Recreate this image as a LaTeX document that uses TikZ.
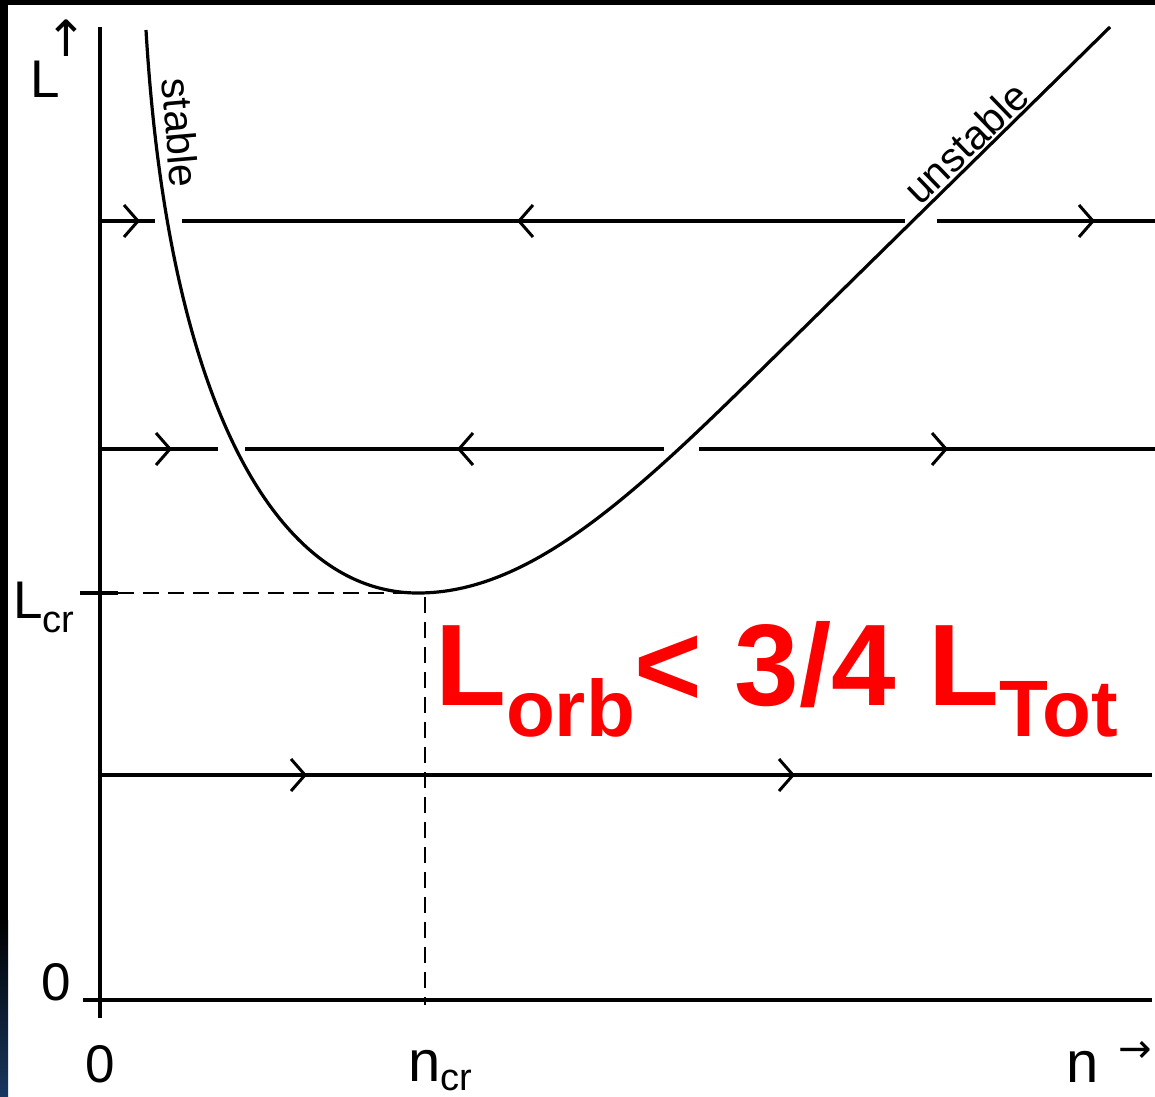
\documentclass[tikz,border=0pt]{standalone}
\usepackage{fontspec}
\setmainfont{Liberation Sans}
\newfontfamily\symf{DejaVu Sans}
\usetikzlibrary{arrows.meta}
\definecolor{redtxt}{RGB}{255,0,0}
\definecolor{edgeblue}{RGB}{25,55,95}
\begin{document}
\begin{tikzpicture}[x=1pt,y=-1pt,
  ln/.style={line width=3.2pt},
  axisln/.style={line width=3.4pt},
  dashln/.style={line width=2.6pt, dash pattern=on 16pt off 9pt},
  chev/.style={line width=3.2pt, -{Straight Barb[length=14pt,width=32pt,line width=3pt]}},
  lbl/.style={inner sep=0pt, font=\fontsize{53}{53}\selectfont},
  curvelbl/.style={inner sep=0pt, font=\fontsize{41}{41}\selectfont},
  symlbl/.style={inner sep=0pt, font=\symf\fontsize{50}{50}\selectfont}]
\useasboundingbox (0,0) rectangle (1155,1096);
\fill[white] (0,0) rectangle (1155,1096);
% dark frame edges
\fill[black] (0,0) rectangle (1155,5);
\fill[black] (0,0) rectangle (8,920);
\shade[top color=black, bottom color=edgeblue] (0,920) rectangle (8,1096);

% axes
\coordinate (ytop) at (100,27);
\coordinate (ybot) at (100,1018);
\coordinate (xl) at (83,1000);
\coordinate (xr) at (1152,1000);
\draw[axisln] (ytop) -- (ybot);
\draw[axisln] (xl) -- (xr);

% critical point and dashed guides
\coordinate (crit) at (418,593);
\coordinate (ltick) at (80,593);
\coordinate (lstart) at (118,593);
\coordinate (nbot) at (425,1005);
\coordinate (ntop) at (425,597);
\draw[ln] (ltick) -- (lstart);
\draw[dashln] (lstart) -- (crit);
\draw[dashln] (ntop) -- (nbot);

% stability curve
\coordinate (ctop) at (146,30);
\coordinate (cjoin) at (760,371);
\coordinate (cend) at (1110,27);
\draw[ln] (ctop) .. controls (168,400) and (275,593) .. (crit)
  .. controls (528,593) and (630,499) .. (cjoin) -- (cend);

% horizontal flow lines
\draw[ln] (100,221) -- (155,221);
\draw[ln] (182,221) -- (905,221);
\draw[ln] (937,221) -- (1155,221);
\draw[ln] (100,449) -- (218,449);
\draw[ln] (245,449) -- (664,449);
\draw[ln] (699,449) -- (1155,449);
\draw[ln] (100,775) -- (1152,775);

% arrowheads
\draw[chev] (125,221) -- (140,221);
\draw[chev] (532,221) -- (517,221);
\draw[chev] (1080,221) -- (1095,221);
\draw[chev] (157,449) -- (172,449);
\draw[chev] (472,449) -- (457,449);
\draw[chev] (933,449) -- (948,449);
\draw[chev] (292,775) -- (307,775);
\draw[chev] (780,775) -- (795,775);

% curve labels
\node[curvelbl, anchor=base, rotate=-85] (stab) at (166,134) {stable};
\node[curvelbl, anchor=base, rotate=44] (unstab) at (976,153) {unstable};

% axis labels
\node[lbl, anchor=base west] (Llab) at (30,97) {L};
\node[symlbl, anchor=center] (Larr) at (66,38) {↑};
\node[lbl, anchor=base west] (Lcr) at (13,618) {L\raisebox{-14pt}{\fontsize{38}{38}\selectfont cr}};
\node[lbl, anchor=base] (zeroL) at (56,1000) {0};
\node[lbl, anchor=base] (zeroB) at (100,1082) {0};
\node[lbl, anchor=base west, font=\fontsize{58}{58}\selectfont] (ncr) at (408,1081) {n\raisebox{-9pt}{\fontsize{38}{38}\selectfont cr}};
\node[lbl, anchor=base west, font=\fontsize{58}{58}\selectfont] (nlab) at (1066,1082) {n};
\node[symlbl, anchor=center, font=\symf\fontsize{40}{40}\selectfont] (narr) at (1135,1052) {→};

% red condition
\node[inner sep=0pt, anchor=base west, text=redtxt, font=\bfseries\fontsize{116}{116}\selectfont] (cond) at (435,705) {L\raisebox{-31pt}{\fontsize{80}{80}\selectfont orb}< 3/4 L\raisebox{-31pt}{\fontsize{80}{80}\selectfont Tot}};
\end{tikzpicture}
\end{document}
